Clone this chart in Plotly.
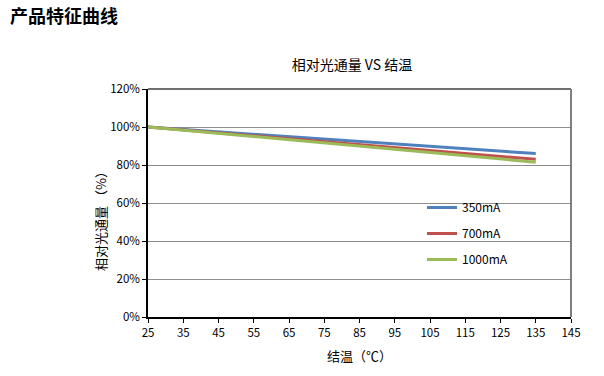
import plotly.graph_objects as go

temps = [25, 135]
s350 = [100, 86]
s700 = [100, 83]
s1000 = [100, 81.5]
names = ["350mA", "700mA", "1000mA"]
colors = ["#4F81BD", "#C0504D", "#9BBB59"]
xticks = list(range(25, 146, 10))
yticks = [0, 20, 40, 60, 80, 100, 120]

W, H = 604, 376
L, R, T, B = 148, 33, 89, 59
pw, ph = W - L - R, H - T - B


def px(x):
    return (x - L) / pw


def py(y):
    return (H - B - y) / ph


fig = go.Figure()
for i, (nm, vals) in enumerate(zip(names, [s350, s700, s1000])):
    fig.add_trace(go.Scatter(x=temps, y=vals, mode="lines", name=nm,
                             legendgroup=nm,
                             line=dict(color=colors[i], width=3)))

font = "Noto Sans CJK SC, Microsoft YaHei, sans-serif"
fig.update_layout(
    width=W, height=H,
    margin=dict(l=L, r=R, t=T, b=B),
    paper_bgcolor="white", plot_bgcolor="white",
    font=dict(family=font, size=11.5, color="#000000"),
    title=dict(text="相对光通量 VS 结温", x=352 / W, y=1 - 65 / H,
               xanchor="center", yanchor="middle",
               font=dict(size=14, family=font)),
    xaxis=dict(range=[25, 145], tickvals=xticks, ticktext=[str(v) for v in xticks],
               showgrid=False, zeroline=False, showline=True, linecolor="#000000",
               linewidth=1.5, ticks="outside", ticklen=4, tickcolor="#000000"),
    yaxis=dict(range=[0, 120], tickvals=yticks, ticktext=[f"{v}%" for v in yticks],
               showgrid=True, gridcolor="#8C8C8C", gridwidth=1, zeroline=False,
               showline=True, linecolor="#000000", linewidth=1.5,
               ticks="outside", ticklen=4, tickcolor="#000000"),
    legend=dict(x=px(422), y=py(193), xanchor="left", yanchor="top",
                bgcolor="rgba(0,0,0,0)", tracegroupgap=7, itemwidth=30,
                font=dict(size=12)),
    showlegend=True,
)
# top and right frame
fig.add_shape(type="line", xref="paper", yref="paper", x0=0, x1=1, y0=1, y1=1,
              line=dict(color="#404040", width=1.5))
fig.add_shape(type="line", xref="paper", yref="paper", x0=1, x1=1, y0=0, y1=1,
              line=dict(color="#7F7F7F", width=2))
fig.add_annotation(text="<b>产品特征曲线</b>", xref="paper", yref="paper",
                   x=px(8), y=py(15), xanchor="left", yanchor="middle",
                   showarrow=False, font=dict(size=18, family=font, color="#000000"))
fig.add_annotation(text="结温（℃）", xref="paper", yref="paper",
                   x=px(359), y=py(355), xanchor="center", yanchor="middle",
                   showarrow=False, font=dict(size=13, family=font, color="#000000"))
fig.add_annotation(text="相对光通量 （%）", xref="paper", yref="paper", textangle=-90,
                   x=px(100), y=py(218), xanchor="center", yanchor="middle",
                   showarrow=False, font=dict(size=13, family=font, color="#000000"))
fig.write_html("out.html", post_script="document.body.style.margin='0px';",
               config={"displayModeBar": False})
